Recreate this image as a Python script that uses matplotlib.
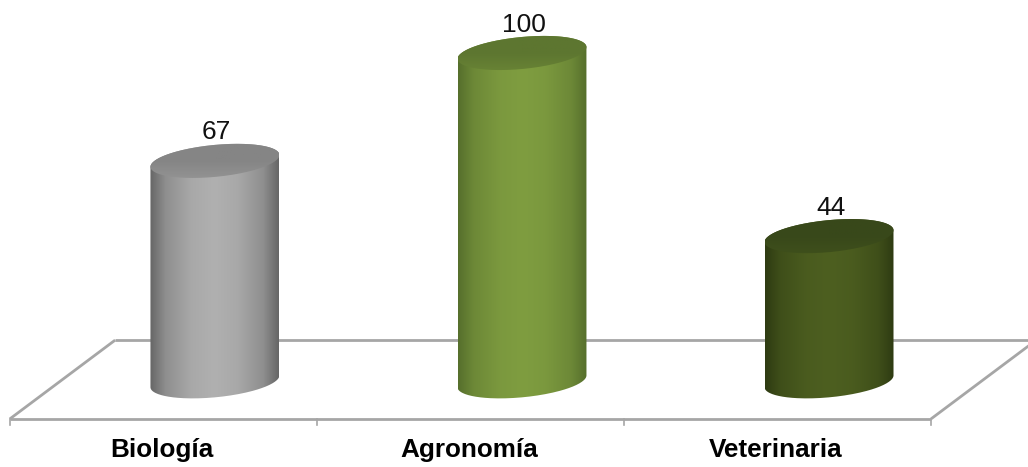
import matplotlib
matplotlib.use('Agg')
import matplotlib.pyplot as plt
import numpy as np
from matplotlib.path import Path
from matplotlib.patches import PathPatch
from matplotlib.colors import LinearSegmentedColormap, to_rgb

plt.rcParams['font.family'] = ['Liberation Sans', 'DejaVu Sans']

categories = ['Biología', 'Agronomía', 'Veterinaria']
values = [67, 100, 44]

# edge, middle, top colours of each cylinder
edge_colors = ['#666666', '#566f2c', '#2e3b12']
mid_colors = ['#b0b0b0', '#7f9d40', '#4d5f20']
top_colors = ['#858585', '#5d7630', '#38481a']

half_w = 0.21
minor = 4.9
skew = 1.8

fig = plt.figure(figsize=(10.28, 4.67), dpi=100)
ax = fig.add_axes([0, 0, 1, 1])
ax.axis('off')

# floor of the chart
fx = -0.668
fy = -11.9
bx = -0.325
by = 12.2
n = len(categories)
line = dict(color='#a6a6a6', lw=2, zorder=1, solid_capstyle='butt')
ax.plot([fx, fx + n], [fy, fy], **line)
ax.plot([bx, bx + n + 0.01], [by, by], **line)
ax.plot([fx, bx], [fy, by], **line)
ax.plot([fx + n, bx + n], [fy, by], **line)
for i in range(n + 1):
    ax.plot([fx + i, fx + i], [fy, fy - 1.8], color='#a6a6a6', lw=1.2, zorder=1)

t = np.linspace(0, 2 * np.pi, 200)


def ellipse(x, y):
    return x + half_w * np.cos(t), y + minor * np.sin(t) + skew * np.cos(t)


def blend(a, b, k):
    a, b = np.array(to_rgb(a)), np.array(to_rgb(b))
    return tuple(a + (b - a) * k)


for i, v in enumerate(values):
    # body: front half of base + back half of top
    ex0, ey0 = ellipse(i, -0.4)
    ex1, ey1 = ellipse(i, v)
    low = t >= np.pi
    up = t <= np.pi
    xs = np.r_[ex0[low], ex1[up]]
    ys = np.r_[ey0[low], ey1[up]]
    body = PathPatch(Path(np.c_[xs, ys]), fc='none', ec='none')
    ax.add_patch(body)
    e, m = edge_colors[i], mid_colors[i]
    cmap = LinearSegmentedColormap.from_list('c', [(0, e), (0.12, blend(e, m, 0.55)), (0.32, blend(e, m, 0.9)),
                                                   (0.5, m), (0.68, blend(e, m, 0.9)), (0.88, blend(e, m, 0.55)), (1, e)])
    grad = np.linspace(0, 1, 256).reshape(1, -1)
    im = ax.imshow(grad, cmap=cmap, aspect='auto', zorder=2,
                   extent=[i - half_w, i + half_w, -10, v + 10])
    im.set_clip_path(body)

    # top face
    top = PathPatch(Path(np.c_[ex1, ey1]), fc='none', ec='none')
    ax.add_patch(top)
    shade = LinearSegmentedColormap.from_list('t', [blend(top_colors[i], m, 0.6), top_colors[i], top_colors[i]])
    im2 = ax.imshow(np.linspace(0, 1, 64).reshape(-1, 1), cmap=shade, aspect='auto', zorder=3,
                    extent=[i - half_w, i + half_w, v + 10, v - 10], origin='upper')
    im2.set_clip_path(top)

    ax.text(i + 0.005, v + 8.7, str(v), ha='center', va='center', fontsize=19, color='#111111', zorder=4)
    ax.text(fx + i + 0.495, -21.4, categories[i], ha='center', va='center', fontsize=18.8, fontweight='bold', color='black')

ax.set_xlim(-0.70, 2.648)
ax.set_ylim(-26.6, 116.2)
fig.savefig('out.png', dpi=100)
